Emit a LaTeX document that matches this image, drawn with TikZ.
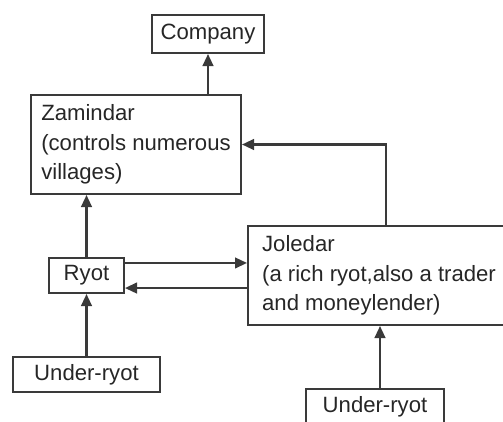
\documentclass[tikz,border=0pt]{standalone}
\usepackage{fontspec}
\setmainfont{Liberation Sans}
\usetikzlibrary{arrows.meta}
\newdimen\px
\px=0.75pt
\definecolor{inkgray}{HTML}{3A3A3A}

\begin{document}
\begin{tikzpicture}[x=0.75pt, y=-0.75pt,
        box/.style = {draw=inkgray,
            line width=1.5pt,
            align=left,
            text=black!85,
            font=\fontsize{16.6}{22}\selectfont},
        arr/.style = {draw=inkgray,
            line width=1.6pt,
            -{Triangle[length=9pt,width=8pt]}}]

        \clip (0,0) rectangle (503,421);

        % Top of the chain
        \node[box,minimum width=112\px,minimum height=38\px] (Company) at (208,34) {Company};
        \node[box,minimum width=210\px,minimum height=99\px] (Zamindar) at (136,144.5)
            {Zamindar\\(controls numerous\\villages)};

        % Middle row
        \node[box,minimum width=75\px,minimum height=35\px] (Ryot) at (86.5,275.5) {Ryot};
        \node[box,minimum width=262\px,minimum height=99\px] (Joledar) at (379,275.5)
            {Joledar\\(a rich ryot,also a trader\\and moneylender)};

        % Bottom row
        \node[box,minimum width=147\px,minimum height=35\px] (UnderL) at (86.5,374.5) {Under-ryot};
        \node[box,minimum width=138\px,minimum height=35\px] (UnderR) at (375,406.5) {Under-ryot};

        % Connectors
        \draw[arr] (Zamindar.north -| Company.south) -- (Company.south);
        \draw[arr] ([xshift=5.25pt]Joledar.north) |- (Zamindar.east);
        \draw[arr] (Ryot.north) -- (Ryot.north |- Zamindar.south);
        \draw[arr] ([yshift=9.4pt]Ryot.east) -- ([yshift=9.4pt]Ryot.east -| Joledar.west);
        \draw[arr] ([yshift=-9.4pt]Ryot.east -| Joledar.west) -- ([yshift=-9.4pt]Ryot.east);
        \draw[arr] (UnderL.north) -- (Ryot.south);
        \draw[arr] ([xshift=3.75pt]UnderR.north) -- ([xshift=3.75pt]UnderR.north |- Joledar.south);

    \end{tikzpicture}
\end{document}
